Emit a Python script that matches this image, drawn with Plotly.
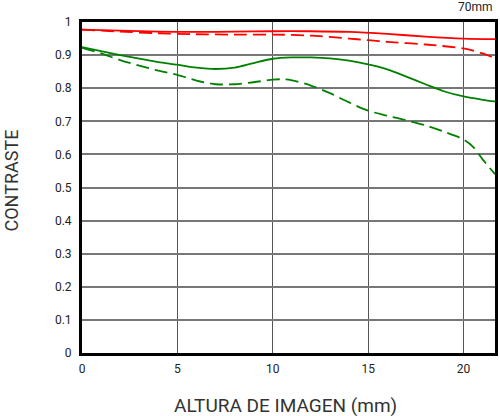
import plotly.graph_objects as go

# Data
red_solid_x = [0, 2, 4, 6, 8, 10, 12, 14, 16, 18, 20, 21.65]
red_solid_y = [0.977, 0.974, 0.971, 0.970, 0.971, 0.972, 0.972, 0.970, 0.964, 0.956, 0.950, 0.948]

red_dash_x = [0, 2, 4, 6, 8, 10, 12, 14, 15, 16, 18, 20, 21, 21.65]
red_dash_y = [0.977, 0.971, 0.966, 0.963, 0.962, 0.962, 0.959, 0.950, 0.945, 0.940, 0.932, 0.920, 0.905, 0.890]

green_solid_x = [0, 1, 2, 3, 4, 5, 6, 7, 8, 9, 10, 11, 12, 13, 14, 15, 16, 17, 18, 19, 20, 21, 21.65]
green_solid_y = [0.924, 0.912, 0.900, 0.889, 0.879, 0.871, 0.862, 0.858, 0.862, 0.876, 0.889, 0.893,
                 0.893, 0.890, 0.883, 0.872, 0.857, 0.835, 0.812, 0.790, 0.775, 0.765, 0.760]

green_dash_x = [0, 1, 2, 3, 4, 5, 6, 7, 8, 9, 10, 10.5, 11, 12, 13, 14, 15, 16, 17, 18, 19, 20, 20.5, 21, 21.65]
green_dash_y = [0.922, 0.905, 0.885, 0.868, 0.853, 0.840, 0.823, 0.812, 0.812, 0.818, 0.826, 0.827, 0.824,
                0.808, 0.785, 0.757, 0.732, 0.717, 0.703, 0.688, 0.668, 0.645, 0.623, 0.585, 0.540]

x_ticks = [0, 5, 10, 15, 20]
y_ticks = [0, 0.1, 0.2, 0.3, 0.4, 0.5, 0.6, 0.7, 0.8, 0.9, 1]
y_tick_labels = ["0", "0.1", "0.2", "0.3", "0.4", "0.5", "0.6", "0.7", "0.8", "0.9", "1"]

RED = "#ff0000"
GREEN = "#008000"
DASH = "13px,6px"

fig = go.Figure()
fig.add_trace(go.Scatter(x=green_dash_x, y=green_dash_y, mode="lines",
                         line=dict(color=GREEN, width=1.8, dash=DASH, shape="spline", smoothing=0.8)))
fig.add_trace(go.Scatter(x=green_solid_x, y=green_solid_y, mode="lines",
                         line=dict(color=GREEN, width=1.8, shape="spline", smoothing=0.8)))
fig.add_trace(go.Scatter(x=red_dash_x, y=red_dash_y, mode="lines",
                         line=dict(color=RED, width=1.8, dash=DASH, shape="spline", smoothing=0.8)))
fig.add_trace(go.Scatter(x=red_solid_x, y=red_solid_y, mode="lines",
                         line=dict(color=RED, width=1.8, shape="spline", smoothing=0.8)))

fig.update_layout(
    width=500, height=416,
    margin=dict(l=82, r=2, t=22, b=63),
    paper_bgcolor="white", plot_bgcolor="white",
    showlegend=False,
    font=dict(family="Roboto", size=12, color="#222"),
    xaxis=dict(range=[0, 21.65], tickvals=x_ticks, showgrid=True, gridcolor="#555", gridwidth=1,
               showline=True, linecolor="black", linewidth=3, mirror=True, zeroline=False,
               ticks="", ticklen=0, ticklabelstandoff=3),
    yaxis=dict(range=[0, 1], tickvals=y_ticks, ticktext=y_tick_labels, showgrid=True, gridcolor="#777",
               gridwidth=1.5, showline=True, linecolor="black", linewidth=3, mirror=True, zeroline=False,
               ticks="", ticklen=0, ticklabelstandoff=5),
    annotations=[
        dict(text="70mm", x=1, y=1, xref="paper", yref="paper", xanchor="right", yanchor="bottom",
             yshift=6, showarrow=False, font=dict(size=12, color="#222")),
        dict(text="ALTURA DE IMAGEN (mm)", x=0.5, y=0, xref="paper", yref="paper", xanchor="center",
             yanchor="middle", xshift=-3, yshift=-52, showarrow=False, font=dict(size=19, color="#333")),
        dict(text="CONTRASTE", x=0, y=0.5, xref="paper", yref="paper", xanchor="center",
             yanchor="middle", xshift=-71, yshift=7, textangle=-90, showarrow=False,
             font=dict(size=18, color="#333")),
    ],
)

fig.write_html("out.html", config={"displayModeBar": False},
               post_script="document.body.style.margin='0';")
